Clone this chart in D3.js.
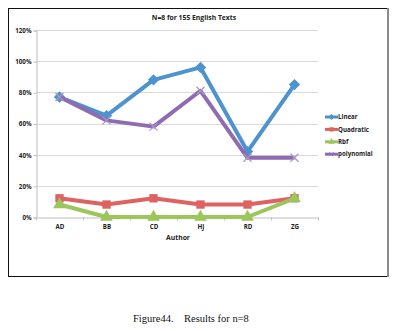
<!DOCTYPE html>
<html>
<head>
<meta charset="utf-8">
<script src="https://cdn.jsdelivr.net/npm/d3@7"></script>
<style>
  html, body { margin: 0; padding: 0; background: #fff; }
  svg { display: block; }
</style>
</head>
<body>
<svg id="chart" width="396" height="331"></svg>
<script>
// Authors on the x axis
const authors = ["AD", "BB", "CD", "HJ", "RD", "ZG"];
// Accuracy (%) per kernel
const linear     = [77, 65, 88, 96, 42, 85];
const quadratic  = [12, 8, 12, 8, 8, 12];
const rbf        = [8, 0, 0, 0, 0, 12];
const polynomial = [77, 62, 58, 81, 38, 38];
const yTicks = [0, 20, 40, 60, 80, 100, 120];

const seriesNames = ["Linear", "Quadratic", "Rbf", "polynomial"];
const seriesValues = [linear, quadratic, rbf, polynomial];
const colors = ["#4d93cf", "#df6262", "#9bc65c", "#8f6cb2"];

// Thin "x" marker, as d3 symbol type
const symbolX = {
  draw(context, size) {
    const r = Math.sqrt(size) / 2;
    context.moveTo(-r, -r); context.lineTo(r, r);
    context.moveTo(-r, r); context.lineTo(r, -r);
  }
};
// Square diamond (a square turned 45 degrees)
const symbolRhomb = {
  draw(context, size) {
    const r = Math.sqrt(size / 2);
    context.moveTo(0, -r); context.lineTo(r, 0);
    context.lineTo(0, r); context.lineTo(-r, 0); context.closePath();
  }
};
const symbols = [symbolRhomb, d3.symbolSquare, d3.symbolTriangle, symbolX];

const svg = d3.select("#chart");
const font = "'Open Sans', 'Liberation Sans', sans-serif";

// Chart frame
svg.append("rect").attr("x", 8.5).attr("y", 8.5).attr("width", 379).attr("height", 268)
  .attr("fill", "#fff").attr("stroke", "#111").attr("stroke-width", 1);
svg.append("line").attr("x1", 388).attr("x2", 388).attr("y1", 8).attr("y2", 277)
  .attr("stroke", "#8a8a8a").attr("stroke-width", 2);

const x = d3.scaleBand().domain(authors).range([36, 318]);
const y = d3.scaleLinear().domain([0, 120]).range([217, 30]);

// Gridlines
svg.append("g").selectAll("line").data(yTicks.filter(d => d > 0)).join("line")
  .attr("x1", 36).attr("x2", 318)
  .attr("y1", d => Math.round(y(d)) + 0.5).attr("y2", d => Math.round(y(d)) + 0.5)
  .attr("stroke", "#d9d9d9").attr("stroke-width", 1);

// Y axis
const yAxis = svg.append("g").attr("transform", "translate(36.5,0.5)")
  .call(d3.axisLeft(y).tickValues(yTicks).tickFormat(d => d + "%").tickSize(3).tickPadding(2));
yAxis.select(".domain").attr("stroke", "#bfbfbf");
yAxis.selectAll(".tick line").attr("stroke", "#bfbfbf");
yAxis.selectAll("text").attr("font-family", font).attr("font-size", 6.2)
  .attr("font-weight", "bold").attr("fill", "#222");

// X axis
const xAxis = svg.append("g").attr("transform", `translate(0.5,${Math.round(y(0)) + 0.5})`)
  .call(d3.axisBottom(x).tickSize(0).tickPadding(7));
xAxis.select(".domain").attr("stroke", "#bfbfbf");
xAxis.selectAll("text").attr("font-family", font).attr("font-size", 6.2)
  .attr("font-weight", "bold").attr("fill", "#222");
// Ticks between categories
xAxis.append("g").selectAll("line").data(d3.range(authors.length + 1)).join("line")
  .attr("x1", i => 36 + i * x.step()).attr("x2", i => 36 + i * x.step())
  .attr("y1", 0).attr("y2", 3).attr("stroke", "#bfbfbf");

// Axis title and chart title
svg.append("text").attr("x", 178).attr("y", 240).attr("text-anchor", "middle")
  .attr("font-family", font).attr("font-size", 6.8).attr("font-weight", "bold").attr("fill", "#222")
  .text("Author");
svg.append("text").attr("x", 194).attr("y", 20).attr("text-anchor", "middle")
  .attr("font-family", font).attr("font-size", 6.8).attr("font-weight", "bold").attr("fill", "#222")
  .text("N=8 for 155 English Texts");

// Series
const cx = d => x(d) + x.bandwidth() / 2;
const line = d3.line().x((d, i) => cx(authors[i])).y(d => y(d));
const drawOrder = [0, 3, 1, 2];
drawOrder.forEach(k => {
  const g = svg.append("g");
  g.append("path").datum(seriesValues[k]).attr("d", line)
    .attr("fill", "none").attr("stroke", colors[k]).attr("stroke-width", 4)
    .attr("stroke-linejoin", "round");
  const sym = d3.symbol().type(symbols[k]).size(k === 3 ? 64 : (k === 0 ? 64 : 70));
  g.selectAll("path.m").data(seriesValues[k]).join("path").attr("class", "m")
    .attr("d", sym)
    .attr("transform", (d, i) => `translate(${cx(authors[i])},${y(d)})`)
    .attr("fill", k === 3 ? "none" : colors[k])
    .attr("stroke", k === 3 ? "#a996c4" : "none")
    .attr("stroke-width", 1.2);
});

// Legend
const legend = svg.append("g");
seriesNames.forEach((name, k) => {
  const ly = 117 + k * 12.4;
  legend.append("line").attr("x1", 325).attr("x2", 338).attr("y1", ly).attr("y2", ly)
    .attr("stroke", colors[k]).attr("stroke-width", 3);
  legend.append("path").attr("d", d3.symbol().type(symbols[k]).size(k === 3 ? 16 : 18))
    .attr("transform", `translate(331.5,${ly})`)
    .attr("fill", k === 3 ? "none" : colors[k]).attr("stroke", k === 3 ? colors[k] : "none");
  legend.append("text").attr("x", 338).attr("y", ly + 2.2)
    .attr("font-family", font).attr("font-size", 6.2).attr("font-weight", "bold").attr("fill", "#222")
    .text(name);
});

// Caption
svg.append("text").attr("x", 133).attr("y", 322)
  .attr("font-family", "'Liberation Serif', 'Times New Roman', serif").attr("font-size", 10.5)
  .attr("fill", "#111").attr("xml:space", "preserve")
  .text("Figure44.    Results for n=8");
</script>
</body>
</html>
